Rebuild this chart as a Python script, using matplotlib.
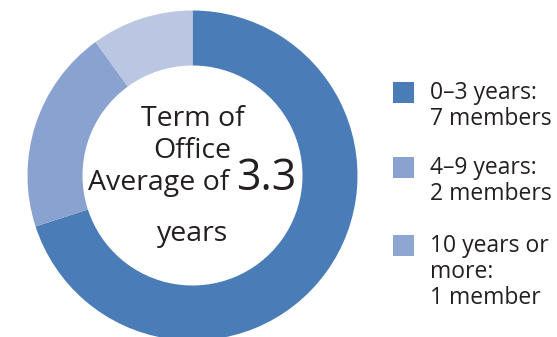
import matplotlib
matplotlib.use("Agg")
import matplotlib.pyplot as plt
from matplotlib.patches import Rectangle

# Term of office breakdown
members = [7, 2, 1]
legend_lines = [
    ["0\u20133 years:", "7 members"],
    ["4\u20139 years:", "2 members"],
    ["10 years or", "more:", "1 member"],
]
average_years = 3.3

ring_colors = ["#4a7db8", "#8aa2cf", "#bac6e2"]
legend_colors = ["#4a7db8", "#8aa2cf", "#8ea6d2"]
text_color = "#231f20"

W, H = 557, 337
plt.rcParams["font.family"] = ["Open Sans", "DejaVu Sans"]

fig = plt.figure(figsize=(W / 100, H / 100), dpi=100)


def fx(x):
    return x / W


def fy(y):
    return 1 - y / H


# donut: centre (192.5, 175.5) px, outer radius 165 px
cx, cy, R = 192.5, 175.5, 165
ax = fig.add_axes([fx(cx - R), fy(cy + R), 2 * R / W, 2 * R / H])
ax.pie(members, colors=ring_colors, startangle=90, counterclock=False,
       radius=1, wedgeprops=dict(width=1 / 3, linewidth=0))
ax.set_xlim(-1, 1)
ax.set_ylim(-1, 1)
ax.set_aspect("auto")
ax.axis("off")

# centre label
fs = 20.5
kw = dict(va="baseline", color=text_color, fontweight=500)
fig.text(fx(cx), fy(126), "Term of", ha="center", fontsize=fs, **kw)
fig.text(fx(cx), fy(158), "Office", ha="center", fontsize=fs, **kw)
fig.text(fx(229), fy(190), "Average of", ha="right", fontsize=fs, **kw)
fig.text(fx(236), fy(190), f"{average_years:.1f}", ha="left", fontsize=31, **kw)
fig.text(fx(cx), fy(241), "years", ha="center", fontsize=fs, **kw)

# legend
box_top = [82, 157, 235]
for top, col, lines in zip(box_top, legend_colors, legend_lines):
    fig.add_artist(Rectangle((fx(393), fy(top + 21)), 21 / W, 21 / H,
                             transform=fig.transFigure, color=col, lw=0))
    for i, line in enumerate(lines):
        fig.text(fx(430), fy(top + 17 + 26 * i), line, ha="left",
                 fontsize=16.5, **kw)

fig.savefig("out.png", dpi=100)
